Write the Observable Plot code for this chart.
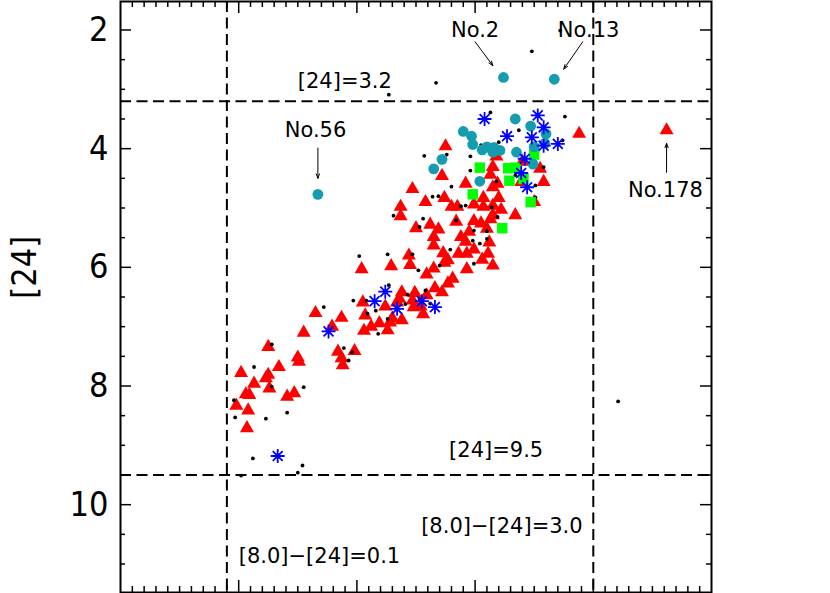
<!DOCTYPE html>
<html><head><meta charset="utf-8">
<script src="https://cdn.jsdelivr.net/npm/d3@7"></script>
<script src="https://cdn.jsdelivr.net/npm/@observablehq/plot@0.6"></script>
<style>html,body{margin:0;padding:0;background:#fff;}</style>
</head><body><div id="chart"></div>
<script>
// [8.0]-[24] colour (x) vs [24] magnitude (y)
const redTriangles = [[2.88,3.75],[3.62,3.69],[1.75,3.96],[1.72,4.46],[1.47,4.68],[1.92,4.59],[2.15,4.31],[2.13,4.44],[2.19,4.59],[2.15,4.65],[2.20,4.83],[2.55,4.34],[2.58,4.56],[2.40,4.22],[2.39,4.56],[2.18,4.13],[1.58,4.90],[1.74,4.83],[2.07,4.83],[1.80,4.98],[1.85,4.98],[1.99,4.94],[2.07,4.98],[2.15,4.96],[2.22,5.03],[2.34,5.12],[2.15,5.12],[2.13,5.19],[1.99,5.22],[2.05,5.26],[1.84,5.23],[1.62,5.28],[1.69,5.36],[1.65,5.49],[1.88,5.49],[1.95,5.40],[2.10,5.35],[1.37,4.98],[1.37,5.14],[1.50,5.34],[2.50,4.90],[1.65,5.63],[2.12,5.58],[1.99,5.70],[1.93,5.77],[1.86,5.77],[1.73,5.76],[1.77,5.88],[1.74,5.92],[2.11,5.77],[2.06,5.87],[2.15,5.97],[1.92,5.57],[1.45,5.96],[1.29,5.98],[1.04,6.03],[1.44,5.80],[1.59,6.12],[1.65,6.02],[1.93,6.03],[1.81,6.19],[1.77,6.27],[1.66,6.35],[1.72,6.42],[1.59,6.47],[1.49,6.43],[1.38,6.42],[1.36,6.53],[1.34,6.59],[1.47,6.56],[1.48,6.67],[1.54,6.66],[1.56,6.79],[1.24,6.66],[1.05,6.59],[1.07,6.81],[1.06,7.07],[1.12,7.00],[1.19,6.94],[1.26,7.06],[1.28,6.93],[1.30,6.86],[1.38,6.89],[0.87,6.85],[0.65,6.77],[0.79,7.00],[0.55,7.10],[0.98,7.41],[0.84,7.42],[0.87,7.53],[0.88,7.65],[0.50,7.52],[0.51,7.59],[0.25,7.34],[0.34,7.68],[0.02,7.78],[0.25,7.81],[0.23,7.87],[0.13,7.96],[0.26,8.04],[0.06,8.14],[0.09,8.15],[0.41,8.18],[0.47,8.12],[-0.02,8.33],[0.08,8.41],[0.07,8.71]];
const blackDots = [[2.72,2.01],[2.48,2.36],[1.67,2.89],[1.27,3.09],[2.13,3.39],[2.76,3.46],[2.37,3.69],[2.20,3.89],[2.05,3.94],[1.96,4.13],[1.76,4.10],[1.57,4.12],[1.96,4.37],[1.80,4.64],[2.18,4.55],[2.58,4.31],[2.74,3.86],[2.51,4.62],[2.34,4.45],[1.64,4.81],[1.69,4.80],[2.51,4.82],[1.88,4.97],[1.92,4.96],[2.14,4.99],[2.19,5.15],[1.99,5.38],[2.04,5.60],[2.10,5.39],[1.98,5.55],[2.10,5.52],[1.84,5.21],[1.56,5.18],[1.53,5.32],[1.31,5.13],[1.26,5.78],[1.02,5.81],[1.47,5.78],[1.52,6.05],[1.70,5.97],[1.99,5.94],[1.79,5.70],[1.27,6.30],[1.43,6.46],[1.58,6.39],[1.62,6.61],[1.41,6.62],[1.53,6.53],[1.26,6.87],[1.16,6.73],[1.09,6.78],[0.97,6.56],[1.08,6.56],[1.18,7.12],[0.72,6.67],[0.89,7.36],[0.93,7.57],[0.96,7.43],[0.28,7.30],[0.13,7.68],[0.28,8.01],[0.55,8.02],[-0.04,8.24],[-0.03,8.53],[0.23,8.55],[0.41,8.45],[0.12,9.22],[0.54,9.34],[0.50,9.46],[0.02,9.51],[3.21,8.26]];
const cyanCircles = [[2.24,2.80],[2.67,2.83],[0.67,4.77],[2.34,3.50],[2.47,3.62],[2.60,3.75],[1.90,3.71],[1.97,3.79],[1.98,3.93],[2.06,4.02],[2.10,3.97],[2.16,3.98],[2.21,4.03],[2.15,4.06],[2.35,4.06],[2.50,3.97],[2.59,3.91],[1.72,4.18],[1.65,4.34],[2.04,4.55],[2.49,4.26]];
const greenSquares = [[2.04,4.32],[2.28,4.33],[2.34,4.32],[2.29,4.54],[2.41,4.51],[1.98,4.77],[2.50,4.10],[2.47,4.90],[2.23,5.34]];
const blueAsterisks = [[2.08,3.50],[2.53,3.44],[2.58,3.64],[2.27,3.79],[2.48,3.81],[2.70,3.92],[2.58,3.95],[2.42,4.17],[2.39,4.41],[2.44,4.65],[1.24,6.41],[1.15,6.57],[1.34,6.70],[1.55,6.57],[1.66,6.67],[0.76,7.08],[0.33,9.18]];

const cut24 = [3.2, 9.5];
const cutColor = [-0.1, 3.0];
const yMajorTicks = [2, 4, 6, 8, 10];
const xMajorTicks = [0, 1, 2, 3];

const sourceLabels = [
  {text: "No.2", x: 2.00, y: 2.12},
  {text: "No.13", x: 2.96, y: 2.12},
  {text: "No.56", x: 0.65, y: 3.81},
  {text: "No.178", x: 3.61, y: 4.82}
];
const sourceArrows = [
  {x1: 2.00, y1: 2.20, x2: 2.15, y2: 2.60},
  {x1: 2.91, y1: 2.20, x2: 2.75, y2: 2.66},
  {x1: 0.67, y1: 3.99, x2: 0.67, y2: 4.50},
  {x1: 3.62, y1: 4.40, x2: 3.62, y2: 3.91}
];
const cutLabelsStart = [
  {text: "[24]=3.2", x: 0.50, y: 2.98},
  {text: "[24]=9.5", x: 1.78, y: 9.20},
  {text: "[8.0]\u2212[24]=0.1", x: 0.00, y: 10.99}
];
const cutLabelsEnd = [
  {text: "[8.0]\u2212[24]=3.0", x: 2.91, y: 10.48}
];
const yAxisLabel = [{text: "[24]", x: -1, y: 6.0}];

const xMinorTicks = d3.range(-10, 41).map(i => i / 10).filter(v => Math.abs(v - Math.round(v)) > 1e-9);
const yMinorTicks = d3.range(4, 23).map(i => i / 2).filter(v => v % 2 !== 0);

const asterisk = {
  draw(ctx, size) {
    const r = Math.sqrt(size / Math.PI), d = r * Math.SQRT1_2;
    ctx.moveTo(-r, 0); ctx.lineTo(r, 0);
    ctx.moveTo(0, -r); ctx.lineTo(0, r);
    ctx.moveTo(-d, -d); ctx.lineTo(d, d);
    ctx.moveTo(-d, d); ctx.lineTo(d, -d);
  }
};

const W = 830, H = 593, ML = 120, MR = 119, MT = 1, MB = 1;
const iw = W - ML - MR, ih = H - MT - MB;
const annFont = "DejaVu Sans, sans-serif";
const axFont = "'Liberation Sans Narrow', 'DejaVu Sans Condensed', 'DejaVu Sans', sans-serif";

const chart = Plot.plot({
  width: W, height: H,
  marginLeft: ML, marginRight: MR, marginTop: MT, marginBottom: MB,
  style: {background: "#fff", color: "#000"},
  x: {domain: [-1, 4], axis: null},
  y: {domain: [11.48, 1.52], axis: null},
  marks: [
    Plot.ruleY(cut24, {stroke: "#000", strokeWidth: 2, strokeDasharray: "11,5.5"}),
    Plot.ruleX(cutColor, {stroke: "#000", strokeWidth: 2, strokeDasharray: "11,5.5"}),
    Plot.ruleX(xMajorTicks, {insetBottom: ih - 12, stroke: "#000", strokeWidth: 1.5}),
    Plot.ruleX(xMajorTicks, {insetTop: ih - 12, stroke: "#000", strokeWidth: 1.5}),
    Plot.ruleX(xMinorTicks, {insetBottom: ih - 6, stroke: "#000", strokeWidth: 1.5}),
    Plot.ruleX(xMinorTicks, {insetTop: ih - 6, stroke: "#000", strokeWidth: 1.5}),
    Plot.ruleY(yMajorTicks, {insetRight: iw - 11, stroke: "#000", strokeWidth: 1.5}),
    Plot.ruleY(yMajorTicks, {insetLeft: iw - 11, stroke: "#000", strokeWidth: 1.5}),
    Plot.ruleY(yMinorTicks, {insetRight: iw - 5, stroke: "#000", strokeWidth: 1.5}),
    Plot.ruleY(yMinorTicks, {insetLeft: iw - 5, stroke: "#000", strokeWidth: 1.5}),
    Plot.frame({stroke: "#000", strokeWidth: 2}),
    Plot.axisY({ticks: yMajorTicks, anchor: "left", tickSize: 0, tickPadding: 12, fontSize: 34, fontFamily: axFont, label: null, tickFormat: d => String(d)}),
    Plot.text(yAxisLabel, {x: "x", y: "y", text: "text", dx: -95, rotate: -90, fontSize: 34, fontFamily: axFont}),
    Plot.dot(redTriangles, {x: d => d[0], y: d => d[1], symbol: "triangle", r: 5.2, fill: "#ff0000"}),
    Plot.dot(blackDots, {x: d => d[0], y: d => d[1], r: 1.9, fill: "#000"}),
    Plot.dot(greenSquares, {x: d => d[0], y: d => d[1], symbol: "square", r: 5.9, fill: "#00ff00"}),
    Plot.dot(cyanCircles, {x: d => d[0], y: d => d[1], r: 5.4, fill: "#139dae"}),
    Plot.dot(blueAsterisks, {x: d => d[0], y: d => d[1], symbol: asterisk, r: 7, stroke: "#0000ff", strokeWidth: 1.8, fill: "none"}),
    Plot.arrow(sourceArrows, {x1: "x1", y1: "y1", x2: "x2", y2: "y2", stroke: "#000", strokeWidth: 1, headLength: 7, headAngle: 40}),
    Plot.text(sourceLabels, {x: "x", y: "y", text: "text", lineAnchor: "bottom", fontSize: 21, fontFamily: annFont, fill: "#000"}),
    Plot.text(cutLabelsStart, {x: "x", y: "y", text: "text", textAnchor: "start", lineAnchor: "bottom", fontSize: 21, fontFamily: annFont, fill: "#000"}),
    Plot.text(cutLabelsEnd, {x: "x", y: "y", text: "text", textAnchor: "end", lineAnchor: "bottom", fontSize: 21, fontFamily: annFont, fill: "#000"})
  ]
});
document.getElementById("chart").appendChild(chart);
</script>
</body></html>
